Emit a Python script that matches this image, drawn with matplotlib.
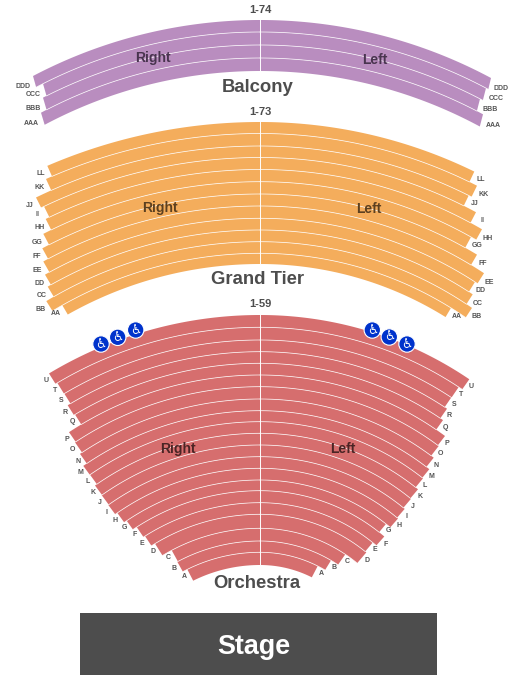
import matplotlib

matplotlib.use("Agg")
import matplotlib.pyplot as plt
import numpy as np
from matplotlib.patches import Circle, Polygon, Rectangle

plt.rcParams["font.family"] = ["Liberation Sans", "DejaVu Sans"]

AISLE_X = 260
GREY = "#4d4d4d"

# rows run from the back of each section to the front
balcony_rows = ["DDD", "CCC", "BBB", "AAA"]
balcony_edges = [20, 32, 45, 58, 71]
balcony_left_x = [33, 43, 43, 41]
balcony_right_x = [491, 486, 480, 483]

tier_rows = ["LL", "KK", "JJ", "II", "HH", "GG", "FF", "EE", "DD", "CC", "BB", "AA"]
tier_edges = [122, 133.5, 146, 157.5, 169.5, 181.7, 194, 206, 218.3, 230, 241.7, 253.3, 264]
tier_left_x = [47.3, 46, 36, 44, 45.7, 43.3, 42.3, 43.3, 45, 47.7, 46.3, 62.3]
tier_right_x = [474.3, 477, 468.7, 476, 482, 471, 477, 484, 475, 472.7, 472, 451]

orch_rows = list("UTSRQPONMLKJIHGFEDCBA")
orch_edges = [315, 327.3, 340, 351.7, 363.3, 375, 386.7, 399, 410.7, 421.7, 433.3,
              445, 456.7, 468.3, 480, 490.7, 502.7, 514.3, 528.3, 541, 552.3, 565]
orch_left_x = [49, 57.3, 64.3, 67.7, 75, 69, 75, 80, 83.3, 90, 95, 101.7, 108.3,
               117.3, 126.7, 136.7, 145, 155, 171.7, 177.3, 187.3]
orch_right_x = [469.3, 458.7, 451.3, 447, 443, 445, 438.7, 433.7, 429.3, 423, 418,
                411, 404.7, 398, 386, 384.3, 372.7, 366.3, 345.3, 331, 317.7]

sections = [
    ("Balcony", balcony_rows, balcony_edges, balcony_left_x, balcony_right_x,
     "#b98dbf", "#49344f", (508, 529), (509, 534)),
    ("Grand Tier", tier_rows, tier_edges, tier_left_x, tier_right_x,
     "#f4ad5c", "#5c4020", (660, 655), (610, 615)),
    ("Orchestra", orch_rows, orch_edges, orch_left_x, orch_right_x,
     "#d66e6e", "#4a2424", (725, 715), (688, 680)),
]

seat_ranges = ["1-74", "1-73", "1-59"]
range_y = [10, 112, 304]
section_label_pos = [(258, 87.5), (257.5, 280), (257, 584)]
side_label_pos = [
    ((153, 58), (375, 60)),
    ((160, 208), (369, 209)),
    ((178, 449), (343, 449)),
]
wheelchair_x = [101, 117.7, 135.7, 372.3, 389.3, 407]
wheelchair_y = [344, 337.3, 330, 330, 337, 344]


def arc_points(apex, center_y, x_end, n=60):
    radius = center_y - apex
    end_angle = np.arcsin((x_end - AISLE_X) / radius)
    angles = np.linspace(0, end_angle, n)
    xs = AISLE_X + radius * np.sin(angles)
    ys = center_y - radius * np.cos(angles)
    return xs, ys, end_angle


def draw_side(ax, rows, edges, ends, center_range, color, side):
    n = len(rows)
    centers = np.linspace(center_range[0], center_range[1], n + 1)
    for i, label in enumerate(rows):
        top_x, top_y, angle = arc_points(edges[i], centers[i], ends[i])
        r_bottom = centers[i + 1] - edges[i + 1]
        bottom_end = AISLE_X + r_bottom * np.sin(angle)
        bot_x, bot_y, _ = arc_points(edges[i + 1], centers[i + 1], bottom_end)
        pts = np.column_stack(
            [np.r_[top_x, bot_x[::-1]], np.r_[top_y, bot_y[::-1]]]
        )
        ax.add_patch(Polygon(pts, closed=True, facecolor=color, edgecolor="none", zorder=1))
        if i < n - 1:
            ax.plot(bot_x, bot_y, color="white", lw=0.55, alpha=0.85, zorder=2)

        # row letter sits just past the end of the row
        mid_x = (top_x[-1] + bot_x[-1]) / 2
        mid_y = (top_y[-1] + bot_y[-1]) / 2
        dist = 4 + 3 * len(label)
        label_x = mid_x + side * dist * np.cos(angle)
        label_y = mid_y + dist * abs(np.sin(angle)) - 1.5
        ax.text(label_x, label_y, label, fontsize=5, color="#555555",
                ha="center", va="center", fontweight="bold")


fig = plt.figure(figsize=(5.25, 6.82), dpi=100)
ax = fig.add_axes([0, 0, 1, 1])
ax.set_xlim(0, 525)
ax.set_ylim(682, 0)
ax.axis("off")

for k, (name, rows, edges, left_x, right_x, color, dark, left_c, right_c) in enumerate(sections):
    draw_side(ax, rows, edges, left_x, left_c, color, -1)
    draw_side(ax, rows, edges, right_x, right_c, color, 1)
    ax.plot([AISLE_X, AISLE_X], [edges[0], edges[-1]], color="white", lw=0.7, zorder=2)
    ax.text(*section_label_pos[k], name, fontsize=13.3, fontweight="bold",
            color=GREY, ha="center", va="center")
    ax.text(AISLE_X, range_y[k], seat_ranges[k], fontsize=8, fontweight="bold",
            color=GREY, ha="center", va="center")
    ax.text(*side_label_pos[k][0], "Right", fontsize=10, fontweight="bold",
            color=dark, ha="center", va="center", zorder=3)
    ax.text(*side_label_pos[k][1], "Left", fontsize=10, fontweight="bold",
            color=dark, ha="center", va="center", zorder=3)

for x, y in zip(wheelchair_x, wheelchair_y):
    ax.add_patch(Circle((x, y), 8.2, facecolor="#0033cc", edgecolor="white", lw=0.8, zorder=4))
    ax.text(x, y, "\u267f", family="DejaVu Sans", fontsize=9, color="white",
            ha="center", va="center", zorder=5)

ax.add_patch(Rectangle((80, 613), 357, 62, facecolor=GREY, edgecolor="none"))
ax.text(253.5, 647.5, "Stage", fontsize=19.4, fontweight="bold", color="white",
        ha="center", va="center")

fig.savefig("out.png", dpi=100)
